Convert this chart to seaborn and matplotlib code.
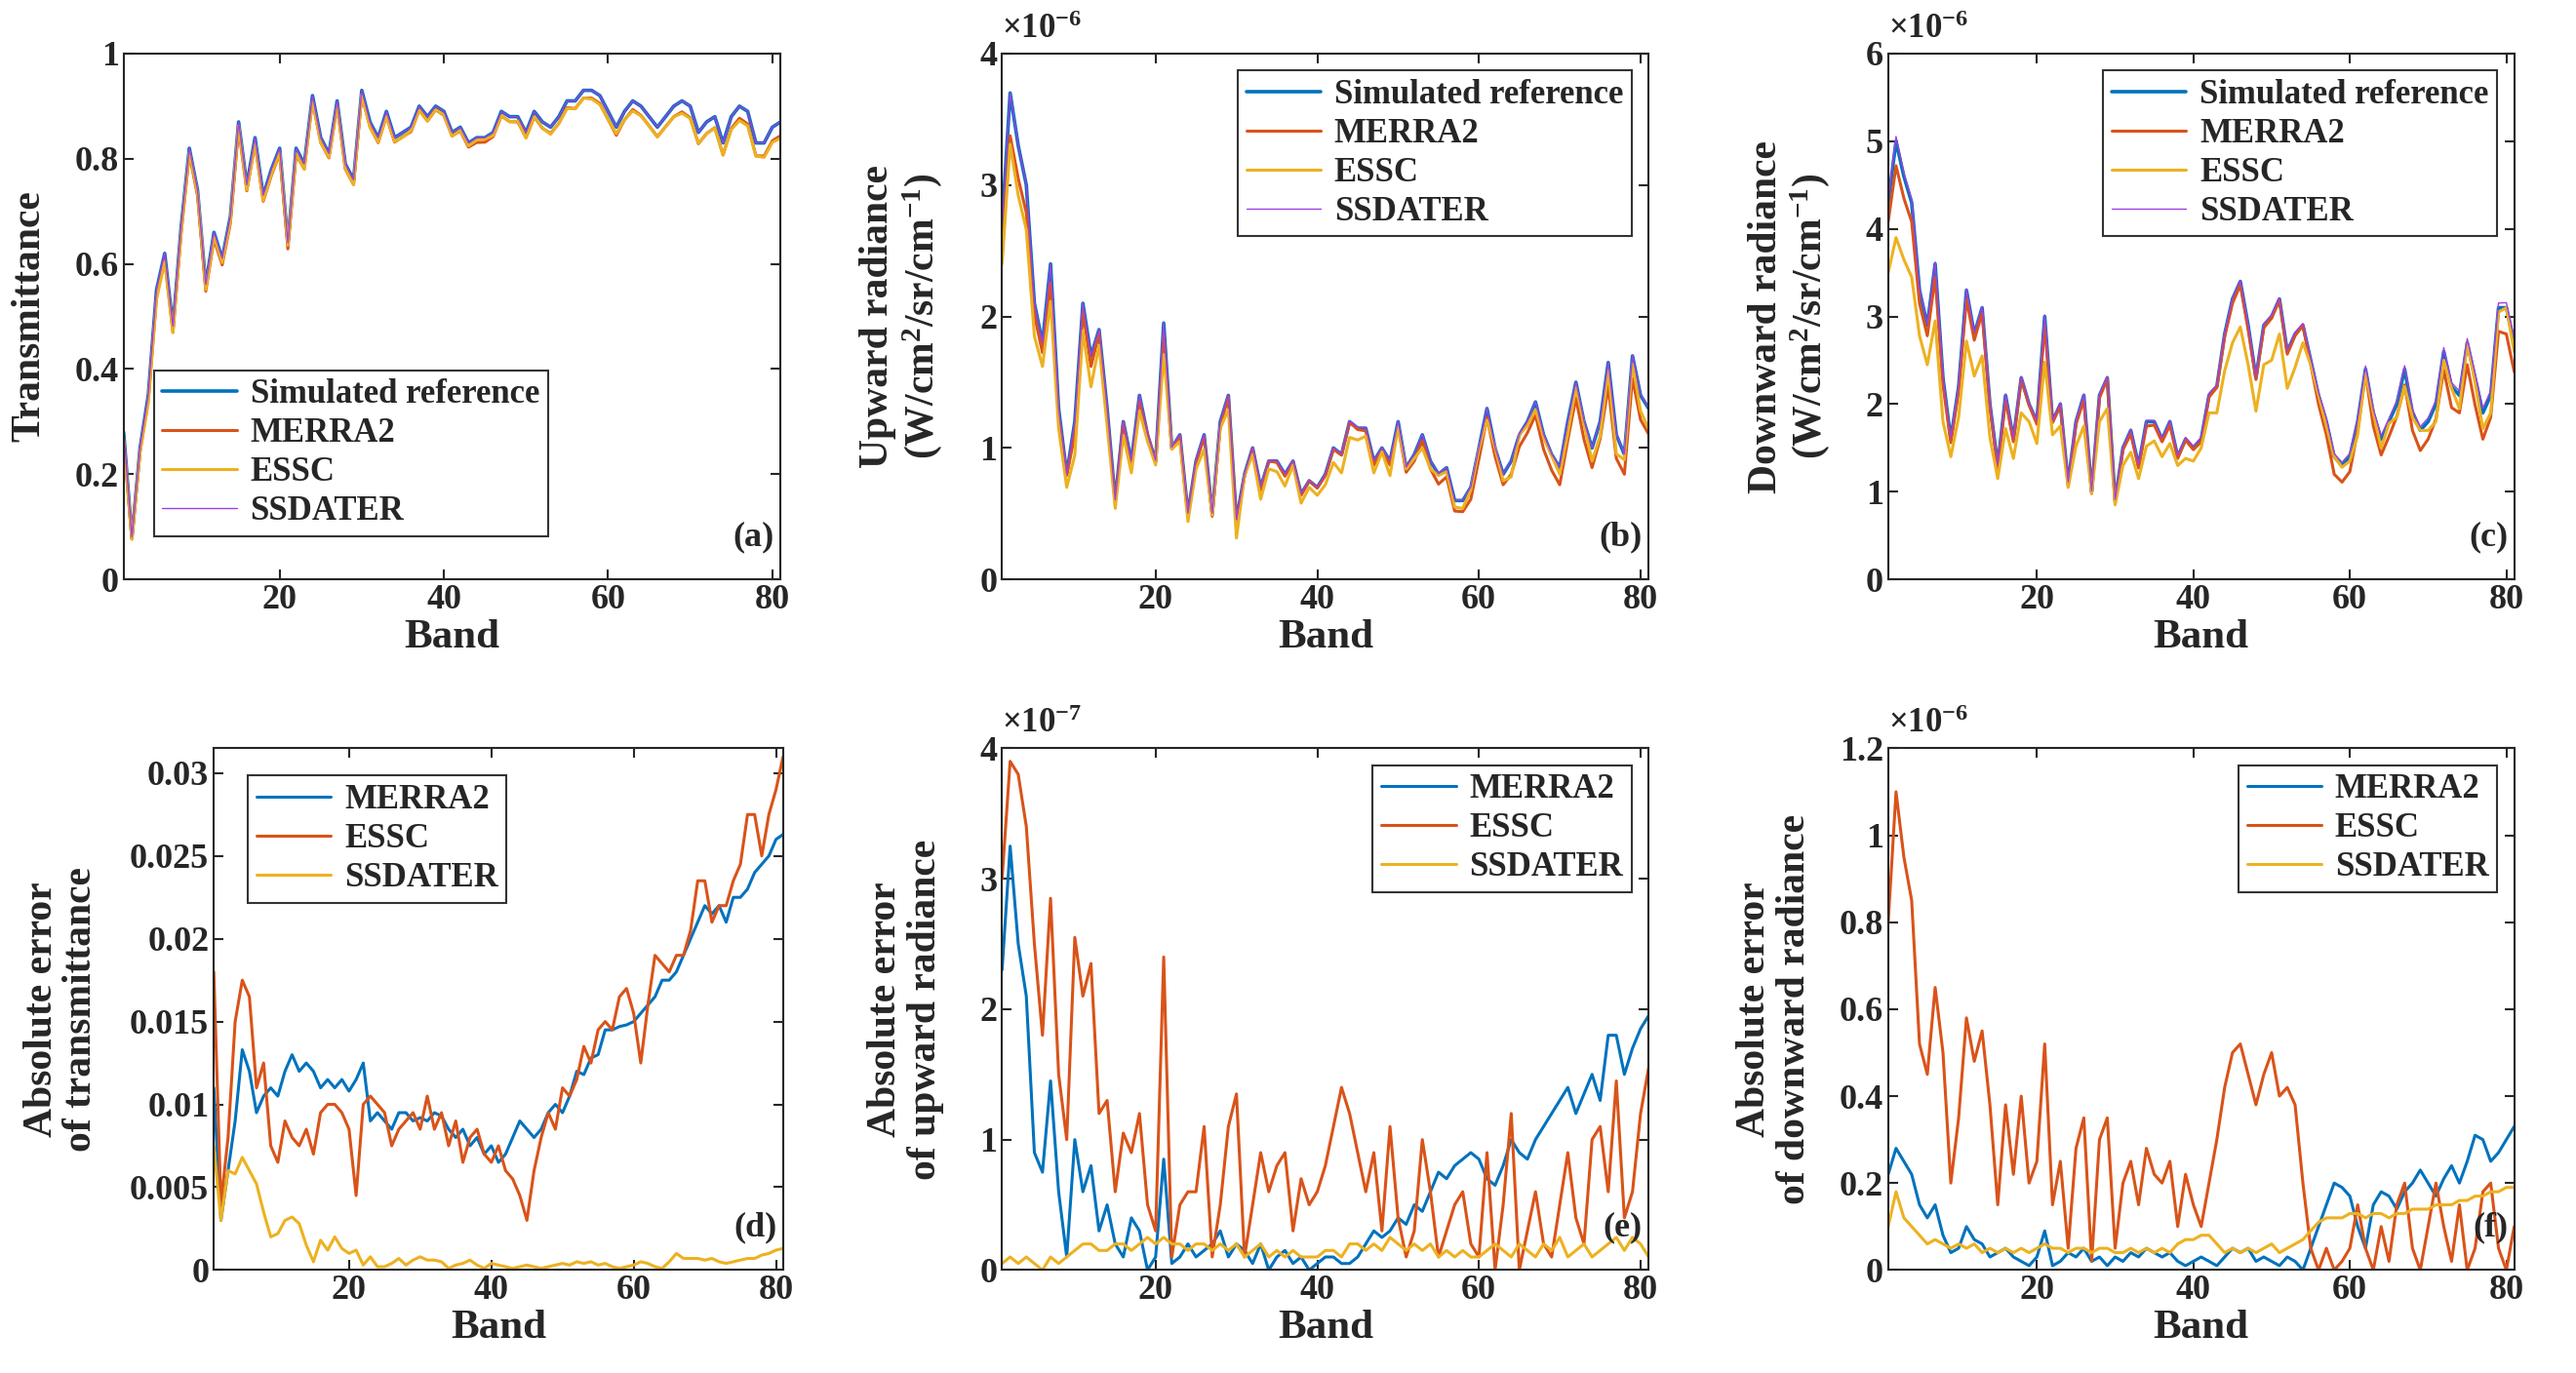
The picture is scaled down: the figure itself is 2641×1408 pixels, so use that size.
import numpy as np
import pandas as pd
import seaborn as sns
import matplotlib.pyplot as plt

sns.set_style("ticks")
plt.rcParams['font.family'] = ['Liberation Serif', 'DejaVu Serif']
plt.rcParams['font.weight'] = 'bold'
plt.rcParams['mathtext.fontset'] = 'custom'
plt.rcParams['mathtext.rm'] = 'Liberation Serif:bold'
plt.rcParams['mathtext.it'] = 'Liberation Serif:bold'

# transmittance reference
trans_ref = [0.28, 0.08, 0.25, 0.35, 0.55, 0.62, 0.48, 0.67, 0.82, 0.74,
             0.56, 0.66, 0.61, 0.69, 0.87, 0.75, 0.84, 0.73, 0.78, 0.82,
             0.64, 0.82, 0.79, 0.92, 0.84, 0.81, 0.91, 0.79, 0.76, 0.93,
             0.87, 0.84, 0.89, 0.84, 0.85, 0.86, 0.90, 0.88, 0.90, 0.89,
             0.85, 0.86, 0.83, 0.84, 0.84, 0.85, 0.89, 0.88, 0.88, 0.85,
             0.89, 0.87, 0.86, 0.88, 0.91, 0.91, 0.93, 0.93, 0.92, 0.89,
             0.86, 0.89, 0.91, 0.90, 0.88, 0.86, 0.88, 0.90, 0.91, 0.90,
             0.85, 0.87, 0.88, 0.83, 0.88, 0.90, 0.89, 0.83, 0.83, 0.86, 0.87]
trans_err_merra = [0.011, 0.003, 0.006, 0.009, 0.0133, 0.012, 0.0095, 0.0105, 0.011, 0.0105,
                   0.012, 0.013, 0.012, 0.0125, 0.012, 0.011, 0.0115, 0.011, 0.0115, 0.0108,
                   0.0115, 0.0125, 0.009, 0.0095, 0.009, 0.0085, 0.0095, 0.0095, 0.009, 0.0092,
                   0.009, 0.0095, 0.0093, 0.0085, 0.008, 0.0085, 0.0075, 0.008, 0.007, 0.0075,
                   0.0065, 0.007, 0.008, 0.009, 0.0085, 0.008, 0.0085, 0.0095, 0.01, 0.0095,
                   0.0105, 0.012, 0.0118, 0.0128, 0.013, 0.0145, 0.0145, 0.0147, 0.0148, 0.015,
                   0.0155, 0.016, 0.0165, 0.0175, 0.0175, 0.018, 0.019, 0.02, 0.021, 0.022,
                   0.0215, 0.022, 0.021, 0.0225, 0.0225, 0.023, 0.024, 0.0245, 0.025, 0.026, 0.0263]
trans_err_essc = [0.018, 0.004, 0.008, 0.015, 0.0175, 0.0165, 0.011, 0.0125, 0.0075, 0.0065,
                  0.009, 0.008, 0.0075, 0.0085, 0.007, 0.0095, 0.01, 0.01, 0.0095, 0.0085,
                  0.0045, 0.01, 0.0105, 0.01, 0.0095, 0.0075, 0.0085, 0.009, 0.0095, 0.0085,
                  0.0105, 0.0085, 0.0095, 0.0075, 0.009, 0.0065, 0.008, 0.0085, 0.007, 0.0065,
                  0.0075, 0.006, 0.0055, 0.0045, 0.003, 0.006, 0.008, 0.0095, 0.0085, 0.011,
                  0.0105, 0.0115, 0.0135, 0.0125, 0.0145, 0.015, 0.0145, 0.0165, 0.017, 0.0155,
                  0.0125, 0.016, 0.019, 0.0185, 0.018, 0.019, 0.019, 0.0205, 0.0235, 0.0235,
                  0.021, 0.022, 0.022, 0.0235, 0.0245, 0.0275, 0.0275, 0.025, 0.0275, 0.029, 0.031]
trans_err_ssd = [0.0075, 0.003, 0.006, 0.0058, 0.0068, 0.006, 0.0052, 0.0035, 0.002, 0.0022,
                 0.003, 0.0032, 0.0028, 0.0015, 0.0005, 0.0018, 0.0012, 0.002, 0.0013, 0.001,
                 0.0012, 0.0003, 0.0008, 0.0002, 0.0002, 0.0004, 0.0007, 0.0003, 0.0006, 0.0008,
                 0.0006, 0.0006, 0.0005, 0.0001, 0.0003, 0.0004, 0.0006, 0.0003, 0.0001, 0.0004,
                 0.0003, 0.0002, 0.0001, 0.0002, 0.0003, 0.0002, 0.0001, 0.0002, 0.0003, 0.0004,
                 0.0003, 0.0005, 0.0004, 0.0005, 0.0003, 0.0004, 0.0002, 0.0001, 0.0002, 0.0003,
                 0.0005, 0.0004, 0.0002, 0.0001, 0.0005, 0.001, 0.0007, 0.0007, 0.0007, 0.0006,
                 0.0007, 0.0005, 0.0004, 0.0005, 0.0006, 0.0007, 0.0007, 0.0009, 0.001, 0.0012, 0.0013]

# upward radiance (x1e-6), errors (x1e-7)
up_ref = [2.7, 3.7, 3.3, 3.0, 2.1, 1.8, 2.4, 1.3, 0.8, 1.2,
          2.1, 1.7, 1.9, 1.3, 0.6, 1.2, 0.9, 1.4, 1.1, 0.9,
          1.95, 1.0, 1.1, 0.5, 0.9, 1.1, 0.5, 1.2, 1.4, 0.45,
          0.8, 1.0, 0.7, 0.9, 0.9, 0.8, 0.9, 0.65, 0.75, 0.7,
          0.8, 1.0, 0.95, 1.2, 1.15, 1.15, 0.9, 1.0, 0.9, 1.2,
          0.85, 0.95, 1.1, 0.9, 0.8, 0.85, 0.6, 0.6, 0.7, 1.0,
          1.3, 1.0, 0.8, 0.9, 1.1, 1.2, 1.35, 1.1, 0.95, 0.85,
          1.2, 1.5, 1.2, 1.0, 1.2, 1.65, 1.1, 0.95, 1.7, 1.4, 1.3]
up_err_merra = [2.3, 3.25, 2.5, 2.1, 0.9, 0.75, 1.45, 0.6, 0.1, 1.0,
                0.6, 0.8, 0.3, 0.5, 0.2, 0.1, 0.4, 0.3, 0.0, 0.1,
                0.85, 0.05, 0.1, 0.2, 0.1, 0.15, 0.2, 0.3, 0.1, 0.2,
                0.15, 0.05, 0.2, 0.0, 0.1, 0.15, 0.05, 0.1, 0.0, 0.05,
                0.1, 0.1, 0.05, 0.05, 0.1, 0.2, 0.3, 0.25, 0.3, 0.4,
                0.35, 0.5, 0.45, 0.6, 0.75, 0.7, 0.8, 0.85, 0.9, 0.85,
                0.7, 0.65, 0.8, 1.0, 0.9, 0.85, 1.0, 1.1, 1.2, 1.3,
                1.4, 1.2, 1.35, 1.5, 1.3, 1.8, 1.8, 1.5, 1.7, 1.85, 1.95]
up_err_essc = [3.0, 3.9, 3.8, 3.4, 2.5, 1.8, 2.85, 1.5, 1.0, 2.55,
               2.1, 2.35, 1.2, 1.3, 0.6, 1.05, 0.9, 1.2, 0.5, 0.3,
               2.4, 0.1, 0.5, 0.6, 0.6, 1.1, 0.1, 0.5, 1.1, 1.35,
               0.1, 0.5, 0.9, 0.6, 0.8, 0.9, 0.3, 0.7, 0.5, 0.6,
               0.8, 1.1, 1.4, 1.2, 0.9, 0.6, 0.9, 0.3, 1.1, 0.4,
               0.1, 0.3, 1.0, 0.6, 0.1, 0.3, 0.5, 0.6, 0.2, 0.1,
               0.9, 0.0, 0.5, 1.2, 0.0, 0.3, 0.6, 0.2, 0.1, 0.5,
               0.9, 0.4, 0.2, 1.0, 1.1, 0.6, 1.45, 0.4, 0.6, 1.2, 1.55]
up_err_ssd = [0.05, 0.1, 0.05, 0.1, 0.05, 0.0, 0.1, 0.05, 0.1, 0.15,
              0.2, 0.2, 0.15, 0.15, 0.2, 0.2, 0.15, 0.2, 0.25, 0.2,
              0.25, 0.2, 0.2, 0.15, 0.2, 0.2, 0.15, 0.2, 0.15, 0.2,
              0.1, 0.15, 0.2, 0.1, 0.15, 0.1, 0.15, 0.1, 0.1, 0.1,
              0.15, 0.15, 0.1, 0.2, 0.2, 0.15, 0.2, 0.15, 0.25, 0.2,
              0.15, 0.2, 0.15, 0.2, 0.1, 0.15, 0.1, 0.15, 0.1, 0.1,
              0.15, 0.2, 0.15, 0.1, 0.2, 0.15, 0.1, 0.2, 0.15, 0.25,
              0.1, 0.15, 0.2, 0.1, 0.15, 0.2, 0.25, 0.15, 0.25, 0.2, 0.1]

# downward radiance (x1e-6), errors (x1e-6)
down_ref = [4.3, 5.0, 4.6, 4.3, 3.3, 2.9, 3.6, 2.3, 1.6, 2.2,
            3.3, 2.8, 3.1, 2.0, 1.3, 2.1, 1.6, 2.3, 2.0, 1.8,
            3.0, 1.8, 2.0, 1.1, 1.8, 2.1, 1.0, 2.1, 2.3, 0.9,
            1.5, 1.7, 1.3, 1.8, 1.8, 1.6, 1.8, 1.4, 1.6, 1.5,
            1.6, 2.1, 2.2, 2.8, 3.2, 3.4, 2.9, 2.3, 2.9, 3.0,
            3.2, 2.6, 2.8, 2.9, 2.5, 2.1, 1.8, 1.4, 1.3, 1.4,
            1.8, 2.4, 1.9, 1.6, 1.8, 2.0, 2.4, 1.9, 1.7, 1.8,
            2.0, 2.6, 2.2, 2.1, 2.7, 2.3, 1.9, 2.1, 3.1, 3.1, 2.7]
down_err_merra = [0.22, 0.28, 0.25, 0.22, 0.15, 0.12, 0.15, 0.08, 0.04, 0.05,
                  0.1, 0.07, 0.06, 0.03, 0.04, 0.05, 0.03, 0.02, 0.01, 0.03,
                  0.09, 0.01, 0.02, 0.04, 0.03, 0.05, 0.02, 0.03, 0.01, 0.03,
                  0.02, 0.04, 0.03, 0.05, 0.04, 0.03, 0.04, 0.02, 0.01, 0.02,
                  0.03, 0.02, 0.01, 0.03, 0.05, 0.04, 0.05, 0.02, 0.03, 0.02,
                  0.01, 0.03, 0.02, 0.0, 0.05, 0.1, 0.15, 0.2, 0.19, 0.17,
                  0.1, 0.05, 0.15, 0.18, 0.17, 0.14, 0.18, 0.2, 0.23, 0.2,
                  0.17, 0.21, 0.24, 0.2, 0.25, 0.31, 0.3, 0.25, 0.27, 0.3, 0.33]
down_err_essc = [0.8, 1.1, 0.95, 0.85, 0.52, 0.45, 0.65, 0.5, 0.2, 0.35,
                 0.58, 0.48, 0.55, 0.38, 0.15, 0.38, 0.22, 0.4, 0.2, 0.25,
                 0.52, 0.15, 0.25, 0.05, 0.28, 0.35, 0.02, 0.3, 0.35, 0.05,
                 0.2, 0.25, 0.15, 0.28, 0.22, 0.2, 0.25, 0.1, 0.22, 0.15,
                 0.1, 0.2, 0.3, 0.42, 0.5, 0.52, 0.45, 0.38, 0.45, 0.5,
                 0.4, 0.42, 0.38, 0.2, 0.05, 0.0, 0.05, 0.0, 0.02, 0.05,
                 0.15, 0.05, 0.0, 0.1, 0.02, 0.15, 0.2, 0.05, 0.0, 0.1,
                 0.2, 0.1, 0.02, 0.15, 0.0, 0.05, 0.18, 0.2, 0.05, 0.0, 0.1]
down_err_ssd = [0.1, 0.18, 0.12, 0.1, 0.08, 0.06, 0.07, 0.06, 0.05, 0.06,
                0.05, 0.06, 0.04, 0.05, 0.04, 0.05, 0.04, 0.05, 0.04, 0.05,
                0.06, 0.05, 0.05, 0.04, 0.05, 0.05, 0.04, 0.05, 0.05, 0.04,
                0.04, 0.05, 0.04, 0.05, 0.04, 0.05, 0.04, 0.06, 0.07, 0.07,
                0.08, 0.08, 0.06, 0.04, 0.05, 0.04, 0.05, 0.04, 0.05, 0.06,
                0.04, 0.05, 0.06, 0.07, 0.09, 0.11, 0.12, 0.12, 0.12, 0.13,
                0.13, 0.12, 0.13, 0.13, 0.12, 0.13, 0.13, 0.14, 0.14, 0.14,
                0.15, 0.15, 0.15, 0.16, 0.16, 0.17, 0.17, 0.18, 0.18, 0.19, 0.19]

bands = np.arange(1, 82)
BLUE, ORANGE, YELLOW, PURPLE = '#0072BD', '#D95319', '#EDB120', '#A040E0'

fig = plt.figure(figsize=(26.41, 14.08), dpi=100)
top_ax = [fig.add_axes([0.048, 0.578, 0.255, 0.383]),
          fig.add_axes([0.389, 0.578, 0.251, 0.383]),
          fig.add_axes([0.733, 0.578, 0.243, 0.383])]
bot_ax = [fig.add_axes([0.083, 0.075, 0.221, 0.38]),
          fig.add_axes([0.389, 0.075, 0.251, 0.38]),
          fig.add_axes([0.733, 0.075, 0.243, 0.38])]


def line(ax, y, color, label, lw=2.2):
    sns.lineplot(x=bands, y=np.asarray(y), ax=ax, color=color, label=label, lw=lw)


def style(ax, ylabel, ylim, yticks, tag, exp=None, labx=None):
    ax.set_xlim(1, 81)
    ax.set_ylim(*ylim)
    ax.set_xticks([20, 40, 60, 80])
    ax.set_yticks(yticks)
    ax.set_yticklabels([f'{t:g}' for t in yticks])
    ax.tick_params(direction='in', top=True, right=True, labelsize=26, length=7, width=1.5)
    for s in ax.spines.values():
        s.set_linewidth(1.5)
    ax.set_xlabel('Band', fontsize=31, fontweight='bold', labelpad=2)
    ax.set_ylabel(ylabel, fontsize=30, fontweight='bold', linespacing=1.1)
    if labx is not None:
        ax.yaxis.set_label_coords(labx, 0.5)
    ax.text(0.99, 0.05, tag, transform=ax.transAxes, ha='right', va='bottom', fontsize=26)
    if exp:
        ax.text(0.0, 1.015, r'$\times10^{' + exp + '}$', transform=ax.transAxes,
                ha='left', va='bottom', fontsize=25)


def legend(ax, **kw):
    lg = ax.legend(fontsize=25, frameon=True, fancybox=False, edgecolor='black',
                   handlelength=2.2, borderpad=0.25, labelspacing=0.2, handletextpad=0.4, **kw)
    lg.get_frame().set_linewidth(1.5)
    for t in lg.get_texts():
        t.set_fontweight('bold')


# top row: reference and the three estimates
series = [
    (trans_ref, trans_err_merra, trans_err_essc, trans_err_ssd, 1.0),
    (up_ref, up_err_merra, up_err_essc, up_err_ssd, 0.1),
    (down_ref, down_err_merra, down_err_essc, down_err_ssd, 1.0),
]
for ax, (ref, em, ee, es, k) in zip(top_ax, series):
    ref = np.asarray(ref)
    line(ax, ref, BLUE, 'Simulated reference', 2.6)
    line(ax, ref - np.asarray(em) * k, ORANGE, 'MERRA2', 2.2)
    line(ax, ref - np.asarray(ee) * k, YELLOW, 'ESSC', 2.2)
    line(ax, ref + np.asarray(es) * k * 0.3, PURPLE, 'SSDATER', 1.0)

style(top_ax[0], 'Transmittance', (0, 1), [0, 0.2, 0.4, 0.6, 0.8, 1], '(a)', labx=-0.115)
style(top_ax[1], 'Upward radiance\n(W/cm$^2$/sr/cm$^{-1}$)', (0, 4), [0, 1, 2, 3, 4], '(b)', '-6', labx=-0.09)
style(top_ax[2], 'Downward radiance\n(W/cm$^2$/sr/cm$^{-1}$)', (0, 6), [0, 1, 2, 3, 4, 5, 6], '(c)', '-6', labx=-0.09)
legend(top_ax[0], loc='lower left', bbox_to_anchor=(0.02, 0.05))
legend(top_ax[1], loc='upper right', bbox_to_anchor=(1.0, 1.0))
legend(top_ax[2], loc='upper right', bbox_to_anchor=(1.0, 1.0))

errs = [
    (trans_err_merra, trans_err_essc, trans_err_ssd),
    (up_err_merra, up_err_essc, up_err_ssd),
    (down_err_merra, down_err_essc, down_err_ssd),
]
for ax, (em, ee, es) in zip(bot_ax, errs):
    line(ax, em, BLUE, 'MERRA2')
    line(ax, ee, ORANGE, 'ESSC')
    line(ax, es, YELLOW, 'SSDATER')

style(bot_ax[0], 'Absolute error\nof transmittance', (0, 0.0315),
      [0, 0.005, 0.01, 0.015, 0.02, 0.025, 0.03], '(d)', labx=-0.2)
style(bot_ax[1], 'Absolute error\nof upward radiance', (0, 4), [0, 1, 2, 3, 4], '(e)', '-7', labx=-0.09)
style(bot_ax[2], 'Absolute error\nof downward radiance', (0, 1.2), [0, 0.2, 0.4, 0.6, 0.8, 1, 1.2], '(f)', '-6', labx=-0.12)
legend(bot_ax[0], loc='upper left', bbox_to_anchor=(0.03, 0.98))
legend(bot_ax[1], loc='upper right', bbox_to_anchor=(1.0, 1.0))
legend(bot_ax[2], loc='upper right', bbox_to_anchor=(1.0, 1.0))

fig.savefig('out.png', dpi=100)
